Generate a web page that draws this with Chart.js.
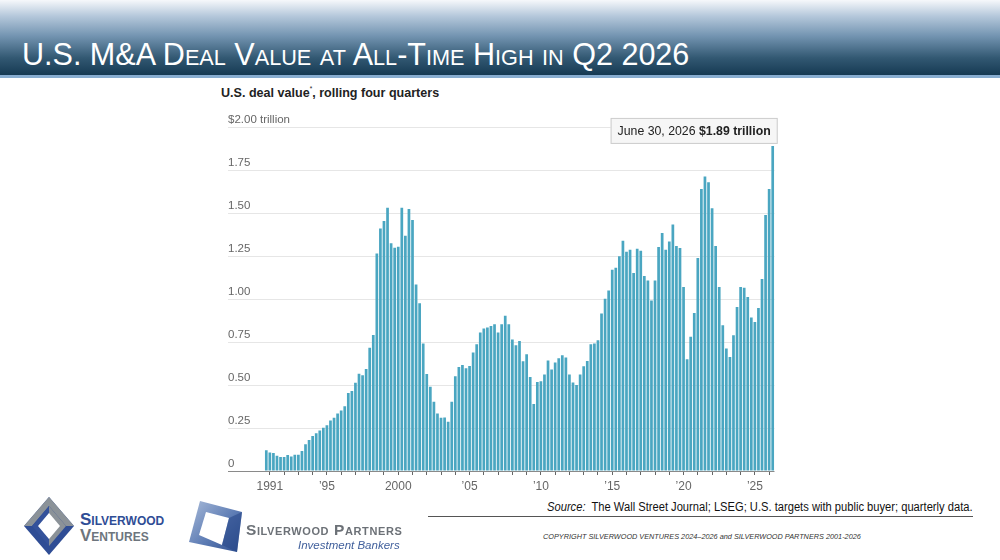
<!DOCTYPE html>
<html>
<head>
<meta charset="utf-8">
<script src="https://cdn.jsdelivr.net/npm/chart.js@4.4.1/dist/chart.umd.min.js"></script>
<style>
  body { margin: 0; width: 1000px; height: 560px; position: relative; overflow: hidden; background: #fff; font-family: 'Liberation Sans', Arial, sans-serif; }
  #header { position: absolute; left: 0; top: 0; width: 1000px; height: 75px;
    background: linear-gradient(#f6f8fb 0px, #b5c8db 16px, #7394b1 36px, #325872 58px, #163a53 75px); }
  #header-line { position: absolute; left: 0; top: 75px; width: 1000px; height: 3px; background: #88add0; }
  #title { position: absolute; left: 22px; top: 39px; line-height: 31px; font-size: 31px; color: #fff; font-variant: small-caps; white-space: nowrap; transform: scaleX(0.985); transform-origin: left top; }
  #subtitle { position: absolute; left: 221px; top: 85px; font-weight: bold; font-size: 13.5px; color: #222; white-space: nowrap; transform: scaleX(0.93); transform-origin: left top; }
  #subtitle sup { font-size: 7px; font-weight: normal; vertical-align: 6px; }
  #chart-box { position: absolute; left: 200px; top: 100px; width: 600px; height: 400px; }
  #source { position: absolute; right: 27px; top: 500px; font-size: 12px; color: #111; white-space: nowrap; transform: scaleX(0.93); transform-origin: right top; }
  #rule { position: absolute; left: 428px; top: 516px; width: 545px; height: 1px; background: #555; }
  #copyright { position: absolute; left: 543px; top: 532px; font-size: 7.3px; font-style: italic; color: #333; white-space: nowrap; }
  .logo-text { position: absolute; font-weight: bold; font-variant: small-caps; white-space: nowrap; }
</style>
</head>
<body>
<div id="header"></div>
<div id="header-line"></div>
<div id="title">U.S. M&amp;A Deal Value at All-Time High in Q2 2026</div>
<div id="subtitle">U.S. deal value<sup>*</sup>, rolling four quarters</div>
<div id="chart-box"><canvas id="deal-chart"></canvas></div>
<div id="source"><i>Source:</i>&nbsp; The Wall Street Journal; LSEG; U.S. targets with public buyer; quarterly data.</div>
<div id="rule"></div>
<div id="copyright">COPYRIGHT SILVERWOOD VENTURES 2024–2026 and SILVERWOOD PARTNERS 2001-2026</div>

<!-- logos -->
<svg style="position:absolute;left:19px;top:494px" width="60" height="64" viewBox="0 0 60 64">
  <polygon points="30,3 55,32 30,61 5,32" fill="#2f4d95"/>
  <polygon points="30,3 55,32 47,32 30,12 13,32 5,32" fill="#8b9298"/>
  <polygon points="30,12 47,32 30,52" fill="#8b9298"/>
  <polygon points="30,12 30,52 13,32" fill="#34529b"/>
  <polygon points="30,19 41,32 30,45 19,32" fill="#fff"/>
</svg>
<div class="logo-text" style="left:80px;top:510px;font-size:17px;color:#2f4d95">Silverwood</div>
<div class="logo-text" style="left:80px;top:526px;font-size:17px;color:#6d757d">Ventures</div>

<svg style="position:absolute;left:186px;top:498px" width="60" height="58" viewBox="0 0 60 58">
  <defs>
    <linearGradient id="pg" x1="0" y1="0" x2="1" y2="1">
      <stop offset="0" stop-color="#a9bbd9"/>
      <stop offset="0.55" stop-color="#5d7cb4"/>
      <stop offset="1" stop-color="#2d4d8e"/>
    </linearGradient>
  </defs>
  <polygon points="14,3 56,14 51,54 3,44" fill="url(#pg)"/>
  <polygon points="20,14 43,20 36,47 13,37" fill="#fff"/>
  <polygon points="43,20 56,14 51,54 36,47" fill="#2a4a8a" opacity="0.6"/>
</svg>
<div class="logo-text" style="left:246px;top:521px;font-size:15.5px;color:#6c7177;letter-spacing:0.6px">Silverwood Partners</div>
<div style="position:absolute;left:298px;top:539px;font-size:11.5px;font-style:italic;color:#41609c;white-space:nowrap">Investment Bankers</div>

<script>
// rolling four-quarter U.S. deal value, $ trillions, Q4 1990 .. Q2 2026
const firstYear = 1990;
const firstQuarter = 4;
const dealValue = [
  0.120, 0.108, 0.104, 0.088, 0.082, 0.082, 0.093, 0.084, 0.095, 0.095,
  0.116, 0.156, 0.180, 0.203, 0.220, 0.235, 0.252, 0.266, 0.294, 0.310,
  0.334, 0.352, 0.376, 0.454, 0.465, 0.513, 0.565, 0.556, 0.593, 0.717,
  0.790, 1.265, 1.410, 1.453, 1.531, 1.324, 1.298, 1.304, 1.531, 1.368,
  1.523, 1.459, 1.085, 0.975, 0.742, 0.564, 0.490, 0.403, 0.335, 0.310,
  0.311, 0.286, 0.402, 0.551, 0.605, 0.617, 0.598, 0.611, 0.689, 0.737,
  0.805, 0.828, 0.834, 0.843, 0.853, 0.805, 0.853, 0.903, 0.853, 0.764,
  0.731, 0.756, 0.638, 0.679, 0.547, 0.389, 0.518, 0.522, 0.561, 0.642,
  0.590, 0.631, 0.656, 0.673, 0.660, 0.561, 0.515, 0.500, 0.561, 0.609,
  0.640, 0.737, 0.741, 0.760, 0.915, 1.002, 1.050, 1.170, 1.182, 1.248,
  1.338, 1.275, 1.286, 1.151, 1.292, 1.280, 1.133, 1.108, 0.992, 1.108,
  1.302, 1.383, 1.286, 1.335, 1.433, 1.308, 1.296, 1.070, 0.650, 0.780,
  0.919, 1.238, 1.640, 1.712, 1.679, 1.528, 1.308, 1.070, 0.847, 0.712,
  0.663, 0.789, 0.954, 1.070, 1.066, 1.012, 0.892, 0.867, 0.948, 1.116,
  1.489, 1.640, 1.890
];
const tickYears = [1991, 1995, 2000, 2005, 2010, 2015, 2020, 2025];
const tickLabels = ['1991', '’95', '2000', '’05', '’10', '’15', '’20', '’25'];
const yTickValues = [0, 0.25, 0.5, 0.75, 1, 1.25, 1.5, 1.75, 2];
const yTickLabels = ['0', '0.25', '0.50', '0.75', '1.00', '1.25', '1.50', '1.75', '$2.00 trillion'];
const calloutDate = 'June 30, 2026';
const calloutValue = '$1.89 trillion';

const quarters = dealValue.map((v, i) => {
  const q = firstQuarter - 1 + i;
  return (firstYear + Math.floor(q / 4)) + ' Q' + (q % 4 + 1);
});

const chartFont = "'Liberation Sans', Arial, sans-serif";

// callout box over the latest bar
const calloutPlugin = {
  id: 'callout',
  afterDatasetsDraw(chart) {
    const meta = chart.getDatasetMeta(0);
    const bar = meta.data[meta.data.length - 1];
    const ctx = chart.ctx;
    ctx.save();
    ctx.font = '12.3px ' + chartFont;
    const w1 = ctx.measureText(calloutDate + ' ').width;
    ctx.font = 'bold 12.3px ' + chartFont;
    const w2 = ctx.measureText(calloutValue).width;
    const boxW = w1 + w2 + 14;
    const boxH = 26;
    const right = bar.x + 5;
    const bottom = bar.y - 2;
    ctx.fillStyle = '#f6f6f6';
    ctx.strokeStyle = '#cccccc';
    ctx.lineWidth = 1;
    ctx.fillRect(right - boxW, bottom - boxH, boxW, boxH);
    ctx.strokeRect(right - boxW + 0.5, bottom - boxH + 0.5, boxW - 1, boxH - 1);
    ctx.fillStyle = '#222';
    ctx.textBaseline = 'middle';
    ctx.font = '12.3px ' + chartFont;
    ctx.fillText(calloutDate + ' ', right - boxW + 7, bottom - boxH / 2 + 1);
    ctx.font = 'bold 12.3px ' + chartFont;
    ctx.fillText(calloutValue, right - boxW + 7 + w1, bottom - boxH / 2 + 1);
    ctx.restore();
  }
};

document.addEventListener('DOMContentLoaded', () => {
  const ctx = document.getElementById('deal-chart').getContext('2d');
  new Chart(ctx, {
    type: 'bar',
    data: {
      labels: quarters,
      datasets: [{
        data: dealValue,
        backgroundColor: '#4aa6c1',
        barPercentage: 0.76,
        categoryPercentage: 1
      }]
    },
    options: {
      responsive: true,
      maintainAspectRatio: false,
      animation: false,
      layout: { padding: { left: 28, right: 25.5, top: 27, bottom: 0 } },
      plugins: { legend: { display: false }, tooltip: { enabled: false } },
      scales: {
        x: {
          offset: true,
          afterFit(scale) { scale.height = 29; },
          border: { display: false },
          grid: { offset: false, drawOnChartArea: false, tickLength: 4, color: '#666' },
          ticks: {
            autoSkip: false, maxRotation: 0, padding: 4,
            color: '#666', font: { family: chartFont, size: 12 },
            callback(val, i) {
              const [year, q] = quarters[i].split(' Q').map(Number);
              if (q !== 1) return null;
              const k = tickYears.indexOf(year);
              return k >= 0 ? tickLabels[k] : '';
            }
          }
        },
        y: {
          min: 0, max: 2,
          afterFit(scale) { scale.width = 36.5; },
          afterBuildTicks(scale) { scale.ticks = yTickValues.map(v => ({ value: v })); },
          border: { display: false },
          grid: {
            tickLength: 36.5,
            color: c => (c.tick && c.tick.value === 0) ? '#8a8a8a' : '#e6e6e6',
            tickColor: c => (c.tick && c.tick.value === 0) ? '#8a8a8a' : '#e6e6e6'
          },
          ticks: {
            mirror: true, crossAlign: 'near', padding: -36.5, labelOffset: -7,
            color: '#666', font: { family: chartFont, size: 11.5 },
            callback(v) { return yTickLabels[yTickValues.indexOf(v)]; }
          }
        }
      }
    },
    plugins: [calloutPlugin]
  });
});
</script>
</body>
</html>
